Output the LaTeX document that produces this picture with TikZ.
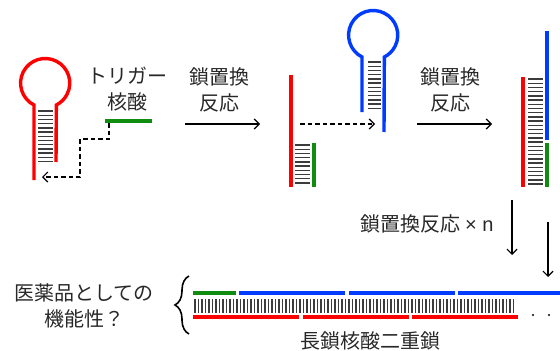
\documentclass[tikz,border=0pt]{standalone}
\usepackage{fontspec}
\setmainfont{Noto Sans CJK JP}
\newfontfamily\latinsans{Liberation Sans}
\usetikzlibrary{arrows.meta,decorations.pathreplacing}

\definecolor{strandR}{RGB}{255,0,0}
\definecolor{strandB}{RGB}{0,60,255}
\definecolor{strandG}{RGB}{16,140,16}
\definecolor{pairgray}{RGB}{60,60,60}
\definecolor{inkgray}{RGB}{40,40,40}

\tikzset{
  strand/.style={line width=3.4pt},
  bp/.style={line width=1.4pt, draw=pairgray},
  push/.style={line width=1.2pt, -{Straight Barb[length=5pt,width=10pt]}},
  txt/.style={text=inkgray, align=center, font=\fontsize{20}{26}\selectfont},
}

\begin{document}
\begin{tikzpicture}[x=1pt,y=1pt]
  \useasboundingbox (0,0) rectangle (560,-351);

  % red hairpin and trigger
  \draw[strand,strandR] (34,-180) -- (34,-105)
        arc[start angle=243,end angle=-63,radius=24.6] -- (56,-162);
  \foreach \i in {0,...,12}
    \draw[bp] (38,-111-4.2*\i) -- (53,-111-4.2*\i);

  \draw[strand,strandG] (105,-121) -- (152,-121);
  \node[txt] (trig) at (127,-89) {トリガー\\核酸};

  \coordinate (trigfoot) at (109,-123);
  \coordinate (redfoot) at (42,-177);
  \draw[push,dash pattern=on 4.5pt off 3pt] (trigfoot) |- (80,-139) |- (redfoot);

  % first displacement
  \node[txt] (step1) at (219,-90) {鎖置換\\反応};
  \coordinate (a1) at (185,-124);
  \coordinate (b1) at (260,-124);
  \draw[push] (a1) -- (b1);

  \draw[strand,strandR] (291,-75) -- (291,-187);
  \foreach \i in {0,...,9}
    \draw[bp] (295,-145-4.2*\i) -- (310,-145-4.2*\i);
  \draw[strand,strandG] (314,-143) -- (314,-187);

  \coordinate (a2) at (300,-124);
  \coordinate (b2) at (375,-124);
  \draw[push,dash pattern=on 4.5pt off 3pt] (a2) -- (b2);

  % blue hairpin
  \draw[strand,strandB] (362,-112) -- (362,-57)
        arc[start angle=243,end angle=-63,radius=24.6] -- (384,-132);
  \foreach \i in {0,...,11}
    \draw[bp] (368,-62-4.2*\i) -- (381,-62-4.2*\i);

  % second displacement
  \node[txt] (step2) at (450,-90) {鎖置換\\反応};
  \coordinate (a3) at (417,-124);
  \coordinate (b3) at (492,-124);
  \draw[push] (a3) -- (b3);

  \draw[strand,strandR] (523,-77) -- (523,-187);
  \foreach \i in {0,...,25}
    \draw[bp] (528,-79-4.2*\i) -- (543,-79-4.2*\i);
  \draw[strand,strandB] (547,-31) -- (547,-140);
  \draw[strand,strandG] (547,-143) -- (547,-187);

  % repeated n times
  \node[txt] (stepn) at (427,-224) {鎖置換反応 {\latinsans × n}};
  \coordinate (a4) at (512,-200);
  \coordinate (b4) at (512,-255);
  \coordinate (a5) at (548,-222);
  \coordinate (b5) at (548,-277);
  \draw[push] (a4) -- (b4);
  \draw[push] (a5) -- (b5);

  % long duplex
  \draw[strand,strandG] (193,-293) -- (236,-293);
  \draw[strand,strandB] (239,-293) -- (345,-293) (349,-293) -- (455,-293)
                        (458,-293) -- (562,-293);
  \foreach \i in {0,...,91}
    \draw[bp,line width=1.3pt] (195+3.5*\i,-299) -- (195+3.5*\i,-313);
  \draw[strand,strandR] (193,-317) -- (299,-317) (303,-317) -- (409,-317)
                        (412,-317) -- (518,-317);
  \fill (533,-315) circle (1.1) (549,-315) circle (1.1);

  \node[txt] (ldx) at (370,-341) {長鎖核酸二重鎖};

  \draw[line width=1.6pt,decorate,decoration={brace,amplitude=14pt}]
        (189,-334) -- (189,-276);
  \node[txt] (drug) at (84,-306) {医薬品としての\\機能性？};
\end{tikzpicture}
\end{document}
